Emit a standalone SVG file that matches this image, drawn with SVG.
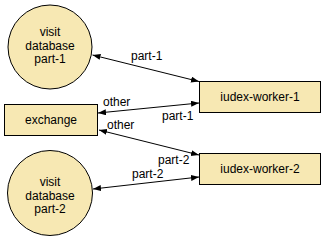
<svg xmlns="http://www.w3.org/2000/svg" width="324" height="240" viewBox="0 0 324 240">
  <style>
    .node { fill: #f7e8b3; stroke: #000; stroke-width: 1; }
    .lbl { font-family: "Liberation Sans", Arial, sans-serif; font-size: 12px; fill: #000; }
    .mid { text-anchor: middle; }
    .edge { fill: none; stroke: #000; stroke-width: 1; marker-start: url(#arrow); marker-end: url(#arrow); }
  </style>
  <defs>
    <marker id="arrow" markerUnits="userSpaceOnUse" markerWidth="9" markerHeight="7" refX="8" refY="3" orient="auto-start-reverse">
      <path d="M0,0 L8,3 L0,6 z" fill="#000"/>
    </marker>
  </defs>
  <rect width="324" height="240" fill="#fff"/>

  <g id="connectors">
    <line class="edge" x1="92.5" y1="55" x2="199" y2="81.5"/>
    <line class="edge" x1="98" y1="113" x2="199" y2="103"/>
    <line class="edge" x1="99" y1="130" x2="199" y2="155"/>
    <line class="edge" x1="93" y1="189" x2="199" y2="177"/>
    <text class="lbl" x="131" y="60">part-1</text>
    <text class="lbl" x="103" y="106">other</text>
    <text class="lbl" x="162" y="120">part-1</text>
    <text class="lbl" x="107" y="129">other</text>
    <text class="lbl" x="158" y="164">part-2</text>
    <text class="lbl" x="132" y="178">part-2</text>
  </g>

  <g id="visit-part-1">
    <circle class="node" cx="50" cy="47" r="42"/>
    <text class="lbl mid" x="50" y="36">visit</text>
    <text class="lbl mid" x="50" y="49.5">database</text>
    <text class="lbl mid" x="50" y="63">part-1</text>
  </g>

  <g id="exchange">
    <rect class="node" x="4.5" y="104.5" width="93" height="31"/>
    <text class="lbl mid" x="51" y="124">exchange</text>
  </g>

  <g id="visit-part-2">
    <circle class="node" cx="50" cy="193" r="42.5"/>
    <text class="lbl mid" x="50" y="186">visit</text>
    <text class="lbl mid" x="50" y="199.5">database</text>
    <text class="lbl mid" x="50" y="213">part-2</text>
  </g>

  <g id="iudex-worker-1">
    <rect class="node" x="199.5" y="81.5" width="121" height="31"/>
    <text class="lbl mid" x="260" y="101">iudex-worker-1</text>
  </g>

  <g id="iudex-worker-2">
    <rect class="node" x="199.5" y="153.5" width="121" height="31"/>
    <text class="lbl mid" x="260" y="173">iudex-worker-2</text>
  </g>
</svg>
